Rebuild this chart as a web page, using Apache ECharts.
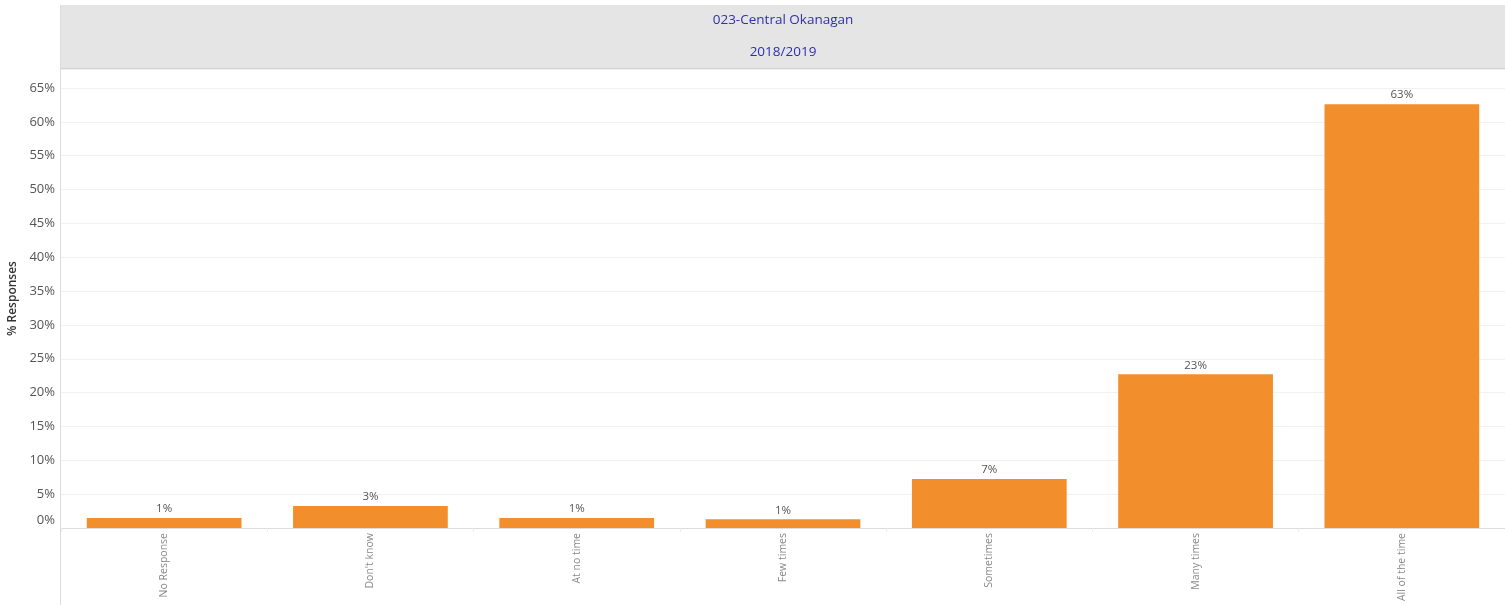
<!DOCTYPE html>
<html>
<head>
<meta charset="utf-8">
<script src="https://cdn.jsdelivr.net/npm/echarts@6/dist/echarts.min.js"></script>
<style>
  html, body { margin: 0; padding: 0; background: #fff; }
  #chart { width: 1505px; height: 605px; }
</style>
</head>
<body>
<div id="chart"></div>
<script>
// Survey responses, share of respondents per answer
const categories = ['No Response', "Don't know", 'At no time', 'Few times', 'Sometimes', 'Many times', 'All of the time'];
const responseShare = [1.48, 3.25, 1.48, 1.28, 7.25, 22.7, 62.6];
const panelTitle = '023-Central Okanagan';
const panelSubtitle = '2018/2019';
const axisName = '% Responses';

const gridLeft = 61, gridTop = 69, gridBottom = 77;
const chart = echarts.init(document.getElementById('chart'));
const W = 1505;

chart.setOption({
  animation: false,
  backgroundColor: '#ffffff',
  textStyle: { fontFamily: '"Open Sans", "Noto Sans", sans-serif' },
  graphic: [
    {
      type: 'rect', silent: true,
      shape: { x: gridLeft, y: 5, width: W - gridLeft, height: 63 },
      style: { fill: '#e5e5e5' }
    },
    {
      type: 'rect', silent: true,
      shape: { x: gridLeft, y: 68, width: W - gridLeft, height: 1 },
      style: { fill: '#d2d2d2' }
    },
    {
      type: 'text', silent: true,
      x: (gridLeft + W) / 2, y: 20,
      style: { text: panelTitle, fill: '#2f2fb0', fontSize: 13.5, fontFamily: '"Open Sans", sans-serif', align: 'center', verticalAlign: 'middle' }
    },
    {
      type: 'text', silent: true,
      x: (gridLeft + W) / 2, y: 52,
      style: { text: panelSubtitle, fill: '#2f2fb0', fontSize: 13.5, fontFamily: '"Open Sans", sans-serif', align: 'center', verticalAlign: 'middle' }
    },
    {
      type: 'rect', silent: true,
      shape: { x: gridLeft - 1, y: 5, width: 1, height: 600 },
      style: { fill: '#dcdcdc' }
    }
  ],
  grid: { left: gridLeft, right: 0, top: gridTop, bottom: gridBottom, containLabel: false, outerBoundsMode: 'none' },
  xAxis: {
    type: 'category',
    data: categories,
    axisLine: { show: true, lineStyle: { color: '#dcdcdc', width: 1 } },
    axisTick: { show: true, alignWithLabel: false, length: 4, lineStyle: { color: '#ececec' } },
    axisLabel: {
      rotate: 90, interval: 0, margin: 5,
      color: '#8a8a8a', fontSize: 10.5
    }
  },
  yAxis: {
    type: 'value',
    min: 0, max: 67.8, interval: 5,
    name: axisName,
    nameLocation: 'middle',
    nameGap: 41,
    nameRotate: 90,
    nameTextStyle: { color: '#333', fontSize: 12, fontWeight: 600 },
    axisLine: { show: false },
    axisTick: { show: false },
    splitLine: { lineStyle: { color: '#f1f1f1', width: 1 } },
    axisLabel: {
      color: '#555', fontSize: 13, margin: 6,
      showMaxLabel: false,
      formatter: function (v) {
        return v === 0 ? '{z|0%}' : v + '%';
      },
      rich: { z: { padding: [0, 0, 16, 0], fontSize: 13, color: '#555' } }
    }
  },
  series: [{
    type: 'bar',
    data: responseShare,
    barWidth: '75%',
    itemStyle: { color: '#f28e2b' },
    label: {
      show: true, position: 'top', distance: 3,
      color: '#555', fontSize: 11.5,
      formatter: function (p) { return Math.round(p.value) + '%'; }
    }
  }]
});
</script>
</body>
</html>
